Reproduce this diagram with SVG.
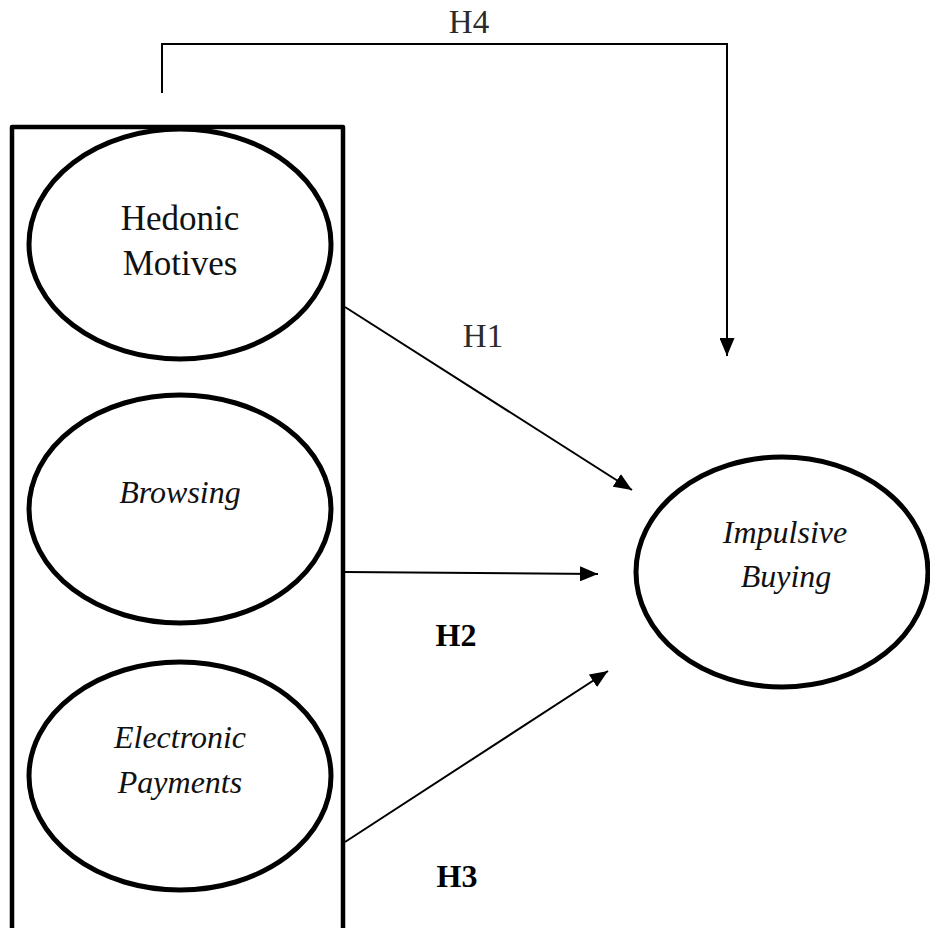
<svg xmlns="http://www.w3.org/2000/svg" width="930" height="928" viewBox="0 0 930 928">
  <style>
    .node { fill: #ffffff; stroke: #000000; stroke-width: 5; }
    .frame { fill: none; stroke: #000000; stroke-width: 4.5; stroke-linejoin: round; }
    .conn { fill: none; stroke: #000000; stroke-width: 2; }
    .lbl { font-family: "Liberation Serif", "Times New Roman", serif; font-size: 35px; fill: #111111; text-anchor: middle; }
    .ital { font-style: italic; font-size: 32px; }
    .hyp { font-family: "Liberation Serif", "Times New Roman", serif; font-size: 33px; fill: #2a2a2a; text-anchor: middle; }
    .bold { font-weight: bold; font-size: 32px; fill: #000000; }
  </style>
  <defs>
    <marker id="arrow" viewBox="0 0 18 15" refX="18" refY="7.5" markerWidth="18" markerHeight="15" markerUnits="userSpaceOnUse" orient="auto">
      <path d="M0,0 L18,7.5 L0,15 Z" fill="#000000"/>
    </marker>
  </defs>
  <rect width="930" height="928" fill="#ffffff"/>

  <g id="frame">
    <rect class="frame" x="12" y="127" width="331" height="820"/>
  </g>

  <g id="connectors">
    <path class="conn" d="M162,93 L162,44 L727,44 L727,356" marker-end="url(#arrow)"/>
    <line class="conn" x1="345" y1="307" x2="632" y2="490" marker-end="url(#arrow)"/>
    <line class="conn" x1="345" y1="572" x2="598" y2="574" marker-end="url(#arrow)"/>
    <line class="conn" x1="345" y1="842" x2="608" y2="671" marker-end="url(#arrow)"/>
  </g>

  <g id="node-hedonic">
    <ellipse class="node" cx="180" cy="244" rx="151" ry="115"/>
    <text class="lbl" x="180" y="230">Hedonic</text>
    <text class="lbl" x="180" y="275">Motives</text>
  </g>

  <g id="node-browsing">
    <ellipse class="node" cx="180" cy="509" rx="151" ry="114"/>
    <text class="lbl ital" x="180" y="503">Browsing</text>
  </g>

  <g id="node-epayments">
    <ellipse class="node" cx="180" cy="776" rx="151" ry="114"/>
    <text class="lbl ital" x="180" y="748">Electronic</text>
    <text class="lbl ital" x="180" y="793">Payments</text>
  </g>

  <g id="node-impulsive">
    <ellipse class="node" cx="782" cy="572" rx="146" ry="115"/>
    <text class="lbl ital" x="785" y="543">Impulsive</text>
    <text class="lbl ital" x="786" y="587">Buying</text>
  </g>

  <g id="labels">
    <text class="hyp" x="469" y="33">H4</text>
    <text class="hyp" x="483" y="347">H1</text>
    <text class="hyp bold" x="456" y="646">H2</text>
    <text class="hyp bold" x="457" y="887">H3</text>
  </g>
</svg>
